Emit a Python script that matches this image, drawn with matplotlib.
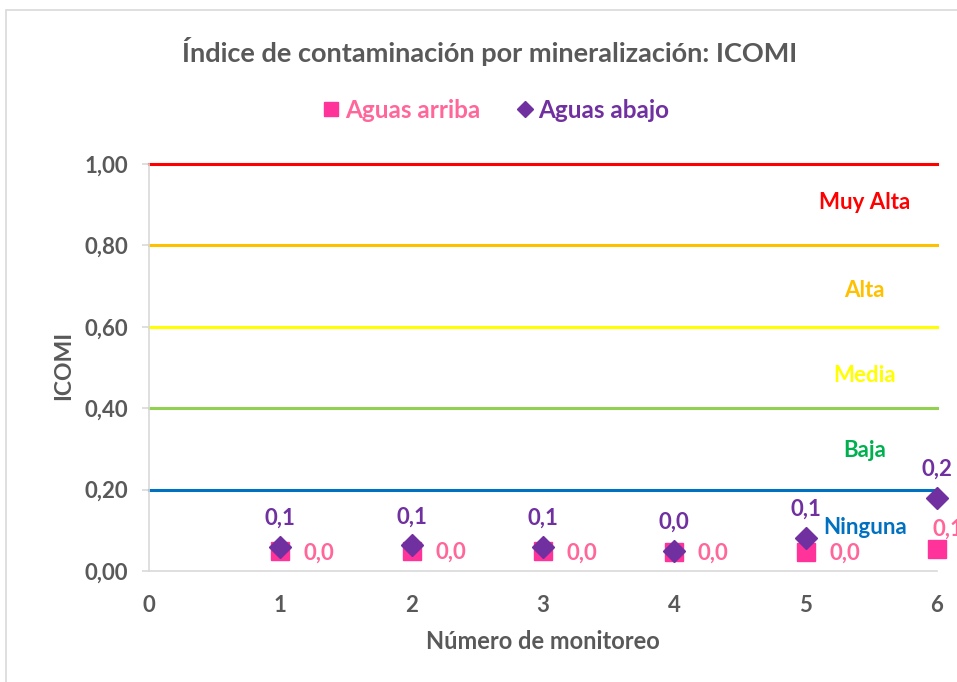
import matplotlib.pyplot as plt
from matplotlib.patches import Rectangle

# data
monitoreo = [1, 2, 3, 4, 5, 6]
aguas_arriba = [0.048, 0.049, 0.048, 0.046, 0.047, 0.054]
aguas_abajo = [0.059, 0.063, 0.059, 0.049, 0.081, 0.18]

niveles = [0.2, 0.4, 0.6, 0.8, 1.0]
nivel_colores = ['#0070C0', '#92D050', '#FFFF00', '#FFC000', '#FF0000']
categorias = ['Ninguna', 'Baja', 'Media', 'Alta', 'Muy Alta']
categoria_y = [0.108, 0.295, 0.48, 0.69, 0.905]
categoria_colores = ['#0070C0', '#00B050', '#FFFF00', '#FFC000', '#FF0000']

plt.rcParams['font.family'] = ['Lato', 'DejaVu Sans']
gris = '#595959'
eje = '#D9D9D9'

fig = plt.figure(figsize=(9.57, 6.82), dpi=100)
W, H = 957, 682
ax = fig.add_axes([149 / W, (H - 571) / H, (937 - 149) / W, (571 - 164) / H])

# chart border
fig.patches.append(Rectangle((6 / W, -0.1), 1.2, (H - 10) / H + 0.1, transform=fig.transFigure,
                             fill=False, edgecolor=eje, linewidth=1.2))

# threshold lines
for nv, c in zip(niveles, nivel_colores):
    ax.plot([0, 6], [nv, nv], color=c, linewidth=2.2, clip_on=False, zorder=2)

for cat, yy, c in zip(categorias, categoria_y, categoria_colores):
    ax.text(5.45, yy, cat, color=c, fontsize=16, fontweight='bold', ha='center', va='center')

# series
ax.plot(monitoreo, aguas_arriba, linestyle='none', marker='s', markersize=13,
        color='#FF3399', label='Aguas arriba', clip_on=False, zorder=4)
ax.plot(monitoreo, aguas_abajo, linestyle='none', marker='D', markersize=11.5,
        color='#7030A0', label='Aguas abajo', clip_on=False, zorder=5)

for i, (x, v) in enumerate(zip(monitoreo, aguas_arriba)):
    off = (-3, 14) if i == len(monitoreo) - 1 else (17, -1)
    ax.annotate(f'{v:.1f}'.replace('.', ','), (x, v), xytext=off, textcoords='offset points',
                color='#FF6699', fontsize=16, fontweight='bold', ha='left', va='center',
                annotation_clip=False)
for x, v in zip(monitoreo, aguas_abajo):
    ax.annotate(f'{v:.1f}'.replace('.', ','), (x, v), xytext=(0, 13), textcoords='offset points',
                color='#7030A0', fontsize=16, fontweight='bold', ha='center', va='bottom',
                annotation_clip=False)

ax.set_xlim(0, 6)
ax.set_ylim(0, 1.0)
ax.set_xticks(range(0, 7))
ax.set_yticks([0, 0.2, 0.4, 0.6, 0.8, 1.0])
ax.set_yticklabels([f'{t:.2f}'.replace('.', ',') for t in [0, 0.2, 0.4, 0.6, 0.8, 1.0]])
ax.tick_params(axis='x', length=0, labelsize=16, labelcolor=gris, pad=17)
ax.tick_params(axis='y', length=5, width=1.2, color=eje, direction='out', labelsize=16,
               labelcolor=gris, pad=10)
for lab in ax.get_xticklabels() + ax.get_yticklabels():
    lab.set_fontweight('bold')
for s in ['top', 'right']:
    ax.spines[s].set_visible(False)
for s in ['bottom', 'left']:
    ax.spines[s].set_color(eje)
    ax.spines[s].set_linewidth(1.2)

ax.set_xlabel('Número de monitoreo', fontsize=17, fontweight='bold', color=gris)
ax.set_ylabel('ICOMI', fontsize=16.5, fontweight='bold', color=gris)
ax.xaxis.set_label_coords(0.5, -0.145)
ax.yaxis.set_label_coords(-0.095, 0.504)

fig.text(490 / W, 1 - 52 / H, 'Índice de contaminación por mineralización: ICOMI',
         fontsize=19.5, fontweight='bold', color=gris, ha='center', va='center')

leg = fig.legend(loc='center', bbox_to_anchor=(495 / W, 1 - 110 / H), ncol=2, frameon=False,
                 fontsize=17.5, handletextpad=0.1, columnspacing=1.4, handlelength=0.9,
                 markerscale=0.75)
for t, c in zip(leg.get_texts(), ['#FF6699', '#7030A0']):
    t.set_color(c)
    t.set_fontweight('bold')

fig.savefig('out.png', dpi=100)
